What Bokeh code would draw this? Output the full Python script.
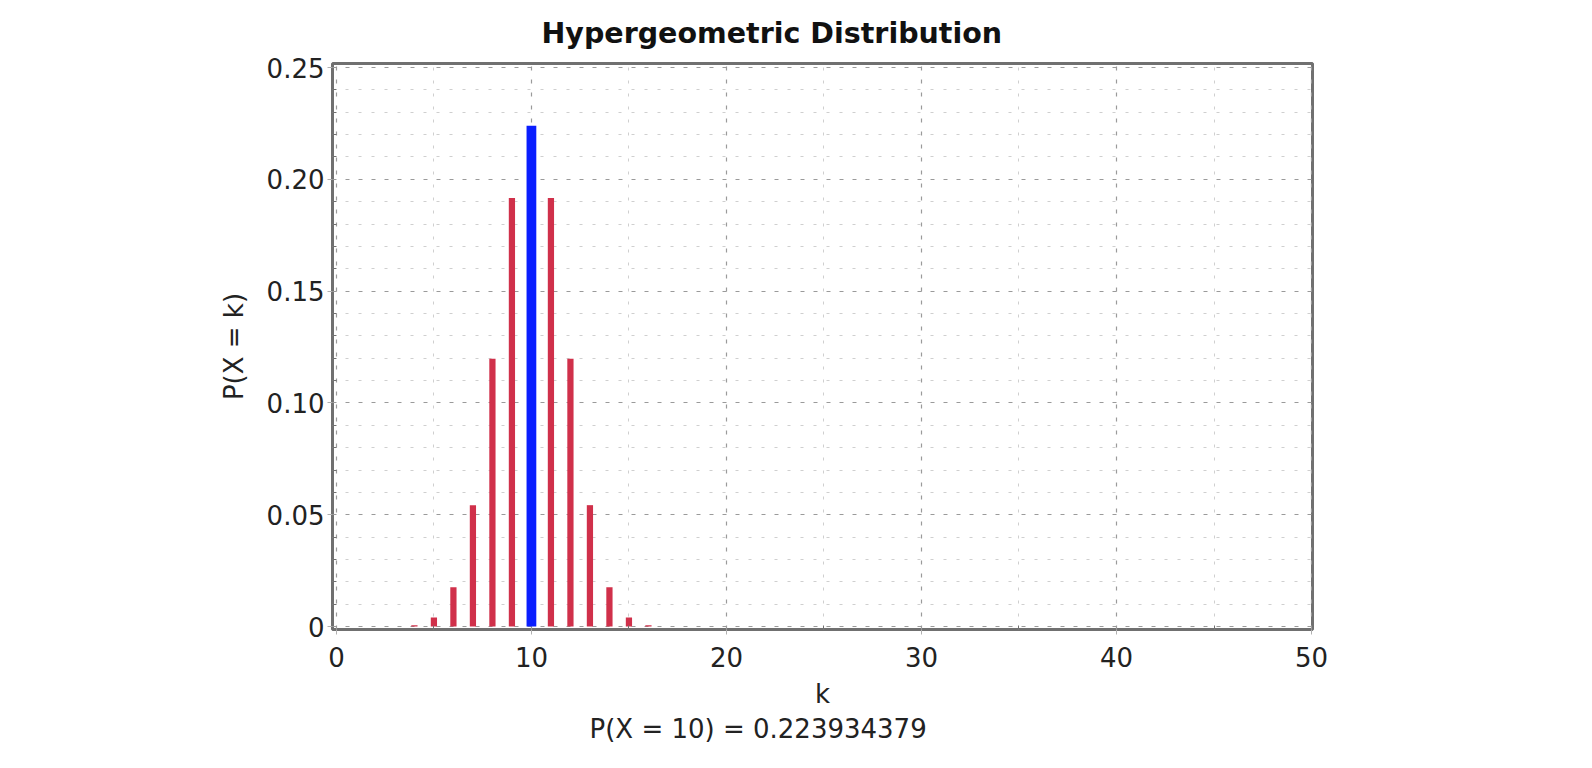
from bokeh.plotting import figure
from bokeh.models import Range1d, FixedTicker, Title
from bokeh.embed import file_html
from bokeh.resources import INLINE

# ---- data ----
k_values = list(range(0, 21))
probabilities = [
    0.0000000018, 0.000000136, 0.00000403, 0.00006448, 0.00063029,
    0.0040338, 0.017648, 0.054300, 0.119751, 0.191602,
    0.223934379,
    0.191602, 0.119751, 0.054300, 0.017648, 0.0040338,
    0.00063029, 0.00006448, 0.00000403, 0.000000136, 0.0000000018,
]
highlight_k = 10
highlight_p = 0.223934379

x_ticks = [0, 10, 20, 30, 40, 50]
x_minor_ticks = [5, 15, 25, 35, 45]
x_tick_labels = ["0", "10", "20", "30", "40", "50"]
y_ticks = [0.0, 0.05, 0.10, 0.15, 0.20, 0.25]
y_minor_ticks = [0.01, 0.02, 0.03, 0.04, 0.06, 0.07, 0.08, 0.09,
                 0.11, 0.12, 0.13, 0.14, 0.16, 0.17, 0.18, 0.19,
                 0.21, 0.22, 0.23, 0.24]
y_tick_labels = ["0", "0.05", "0.10", "0.15", "0.20", "0.25"]

title_text = "Hypergeometric Distribution"
x_label = "k"
y_label = "P(X = k)"
subtitle_text = "P(X = %d) = %s" % (highlight_k, "0.223934379")

# ---- figure ----
FONT = "DejaVu Sans"
p = figure(width=1576, height=752, output_backend="svg", toolbar_location=None,
           x_range=Range1d(-0.2, 50.05), y_range=Range1d(-0.0013, 0.2518))
p.min_border_left = 332
p.min_border_top = 63
p.min_border_right = 264
p.min_border_bottom = 123
p.background_fill_color = "white"
p.border_fill_color = "white"
p.outline_line_color = "#707070"
p.outline_line_width = 3

# bars
other_k = [k for k in k_values if k != highlight_k]
other_p = [pr for k, pr in zip(k_values, probabilities) if k != highlight_k]
p.vbar(x=other_k, top=other_p, bottom=0, width=0.32,
       fill_color="#d0304a", line_color=None)
p.vbar(x=[highlight_k], top=[highlight_p], bottom=0, width=0.5,
       fill_color="#0a1eff", line_color=None)

# axes
p.xaxis.ticker = FixedTicker(ticks=x_ticks, minor_ticks=x_minor_ticks)
p.yaxis.ticker = FixedTicker(ticks=y_ticks, minor_ticks=y_minor_ticks)
p.xaxis.major_label_overrides = {t: l for t, l in zip(x_ticks, x_tick_labels)}
p.yaxis.major_label_overrides = {t: l for t, l in zip(y_ticks, y_tick_labels)}

for ax in (p.xaxis, p.yaxis):
    ax.axis_line_color = None
    ax.major_tick_line_color = "#b0b0b0"
    ax.major_tick_out = 5
    ax.major_tick_in = 0
    ax.minor_tick_line_color = "#707070"
    ax.minor_tick_in = 4
    ax.minor_tick_out = 0
    ax.major_label_text_font = FONT
    ax.major_label_text_font_size = "26px"
    ax.major_label_text_color = "#222222"
    ax.axis_label_text_font = FONT
    ax.axis_label_text_font_size = "26px"
    ax.axis_label_text_font_style = "normal"
    ax.axis_label_text_color = "#222222"

p.xaxis.axis_label = x_label
p.yaxis.axis_label = y_label
p.xaxis.major_label_standoff = 12
p.yaxis.major_label_standoff = 3
p.xaxis.axis_label_standoff = 9
p.yaxis.axis_label_standoff = 15

# grids
for g in (p.xgrid, p.ygrid):
    g.grid_line_color = "#9a9a9a"
    g.grid_line_dash = "4 9"
    g.grid_line_width = 1.2
    g.minor_grid_line_color = "#cfcfcf"
    g.minor_grid_line_dash = "3 10"
    g.minor_grid_line_width = 1

# titles
t = Title(text=title_text, align="left", offset=209, text_font=FONT,
          text_font_size="28.5px", text_font_style="bold", text_color="#111111",
          standoff=28)
p.add_layout(t, "above")
st = Title(text=subtitle_text, align="left", offset=257, text_font=FONT,
           text_font_size="26px", text_font_style="normal", text_color="#222222",
           standoff=0)
p.add_layout(st, "below")

open("out.html", "w").write(file_html(p, INLINE))
